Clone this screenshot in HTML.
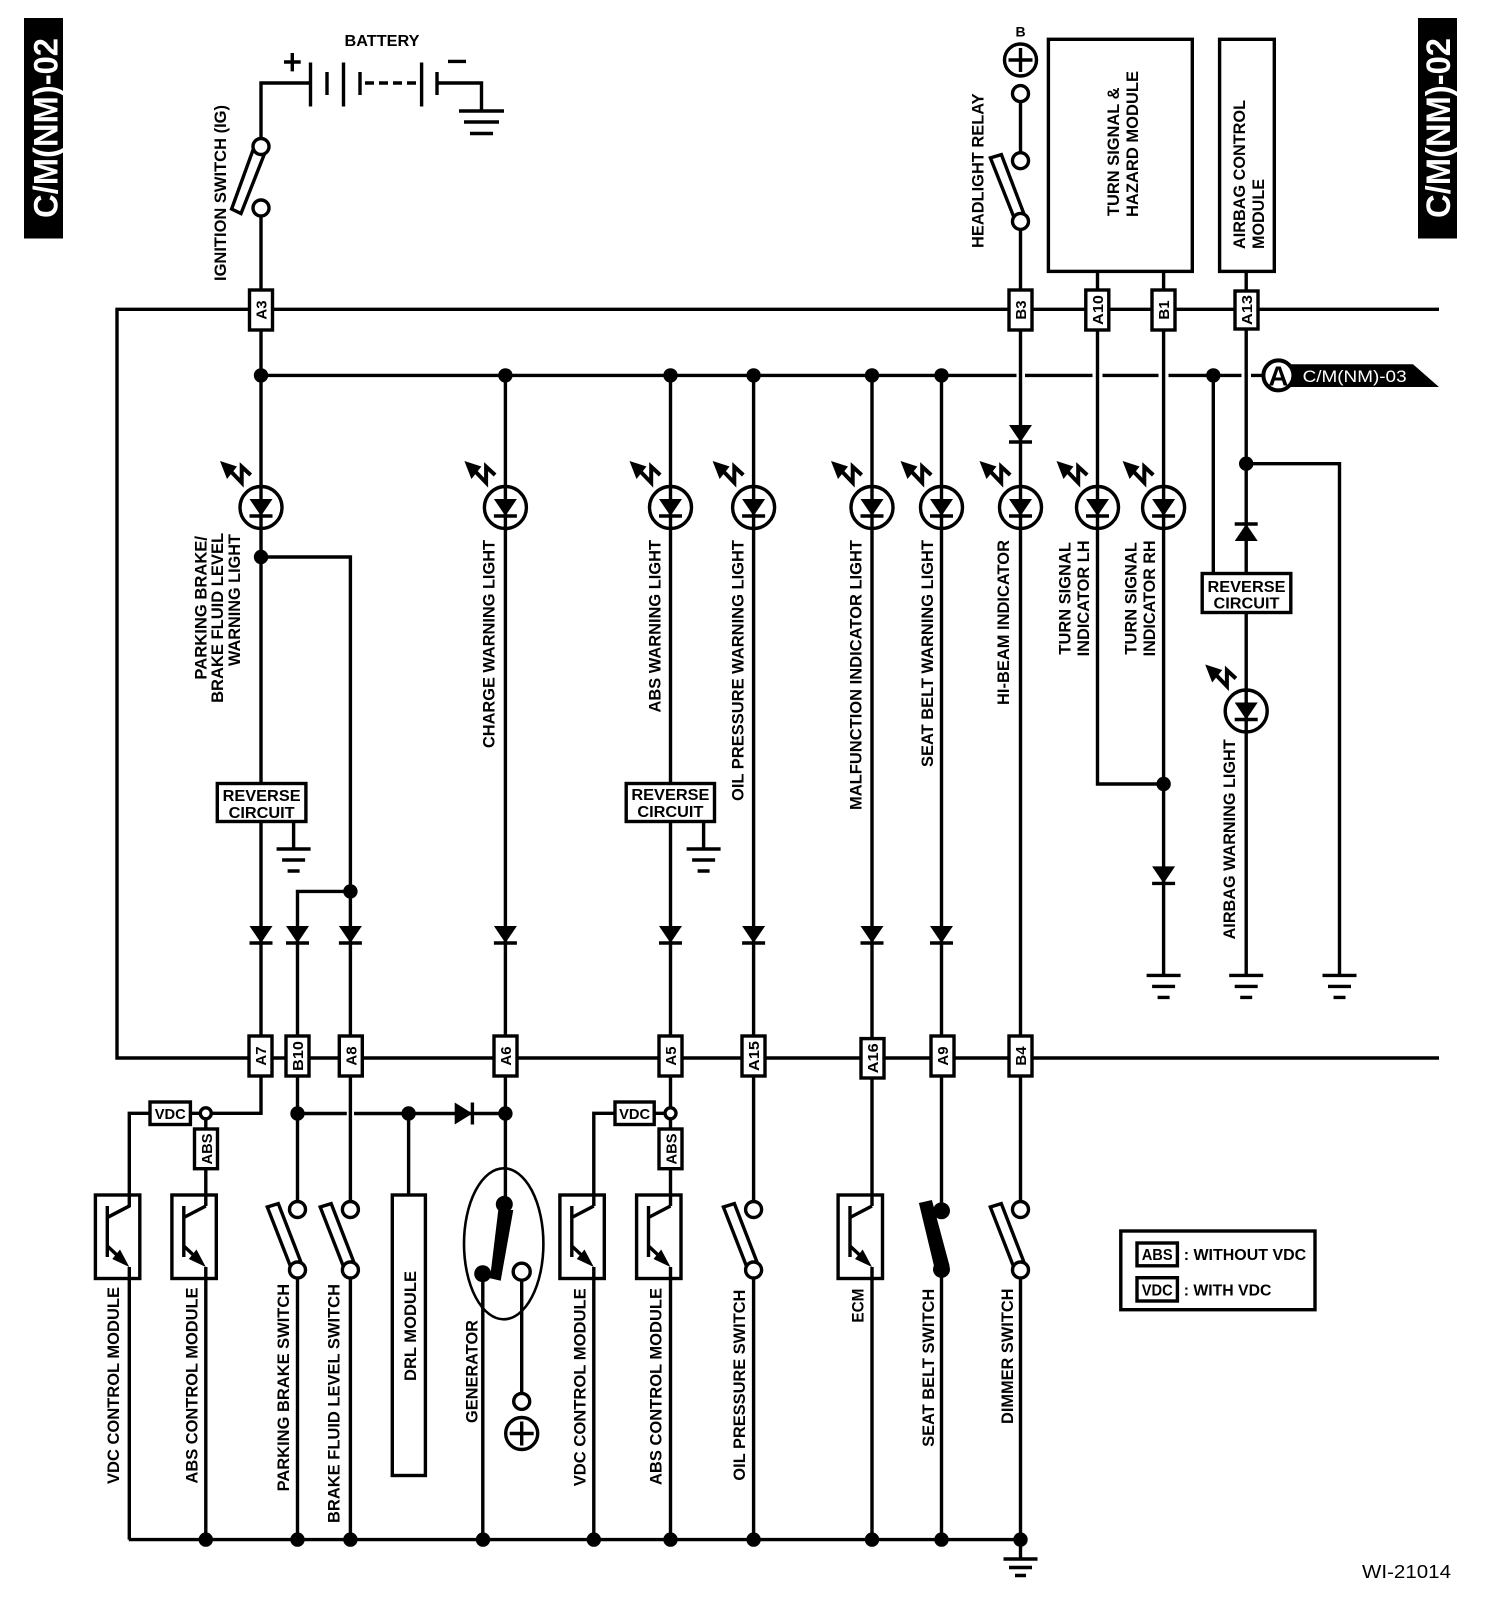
<!DOCTYPE html>
<html><head><meta charset="utf-8"><style>
html,body{margin:0;padding:0;background:#fff}
svg{display:block}
text{font-family:"Liberation Sans",sans-serif;font-weight:bold;font-size:17px;fill:#000}
.c{font-size:15px;text-anchor:middle}
.w{fill:#fff}
</style></head><body>
<svg xmlns="http://www.w3.org/2000/svg" width="1504" height="1614" viewBox="0 0 1504 1614">
<defs>
<g id="led" fill="none" stroke="#000" stroke-width="3.4">
<circle r="21"/>
<polygon points="-11.5,-8.5 11.5,-8.5 0,8.5" fill="#000" stroke="none"/>
<path d="M-11.5 8.5H11.5"/>
<polygon points="-41,-46.5 -24,-41 -34,-28.5" fill="#000" stroke="none"/>
<path d="M-31,-37 L-19.3,-24.8 V-40.8 L-10.3,-32.5" stroke-width="4"/>
</g>
<g id="d"><polygon points="-11.5,0 11.5,0 0,17" fill="#000"/><path d="M-11.5 17H11.5" stroke="#000" stroke-width="3.4"/></g>
<g id="gnd" stroke="#000" stroke-width="3.4"><path d="M-17 0H17M-11.5 11H11.5M-6 22H6"/></g>
<g id="sw"><polygon points="-30.2,1207 -19.2,1203.6 3.4,1262 -7.2,1266" fill="#fff" stroke="#000" stroke-width="3.4"/><circle cy="1209.5" r="8" fill="#fff" stroke="#000" stroke-width="3.4"/><circle cy="1270" r="8" fill="#fff" stroke="#000" stroke-width="3.4"/></g>
<g id="tr"><rect x="-33.9" y="1195" width="44.4" height="83.5" fill="none" stroke="#000" stroke-width="3.4"/><path d="M-22 1206V1257M-22 1217.5L0 1206M-22 1246L-6 1261" fill="none" stroke="#000" stroke-width="3.4"/><polygon points="0,1267 -17,1259 -9.3,1249.5" fill="#000"/></g>
</defs>

<!-- page tags -->
<rect x="24" y="18" width="39" height="220.5" fill="#000"/>
<rect x="1418" y="18" width="39" height="220.5" fill="#000"/>
<text class="w" style="font-size:34px" transform="translate(57.5,218)rotate(-90)" textLength="180" lengthAdjust="spacingAndGlyphs">C/M(NM)-02</text>
<text class="w" style="font-size:34px" transform="translate(1450,218)rotate(-90)" textLength="180" lengthAdjust="spacingAndGlyphs">C/M(NM)-02</text>

<g fill="none" stroke="#000" stroke-width="3.4">
<!-- buses -->
<path d="M1439 309.3H117V1058H1439"/>
<path d="M261 375.4H1016.5M1025 375.4H1092.5M1102.5 375.4H1158.5M1168.5 375.4H1241.5M1251 375.4H1265"/>
<path d="M128.8 1539.6H1020.5V1559"/>
<!-- battery -->
<path d="M261 137V83H310.5M310.5 62.5V106.5M327 72V95M343.5 62.5V106.5M360 72V95M421.6 62.5V106.5M437 72V95M437 83H481.5V111"/>
<path d="M365 83H421" stroke-dasharray="9 5"/>
<path d="M284 62H300.7M292.3 53V71.4M448 61.4H466"/>
<!-- main verticals -->
<path d="M261 217V1036M261 1076V1113.3H129.3V1206L107.3 1217.5M129.3 1267V1539.6"/>
<path d="M505.4 375V1204"/>
<path d="M670.5 375V1113.3H593.8V1206M593.8 1267V1539.6M670.5 1113.3V1206M670.5 1267V1539.6"/>
<path d="M753.6 375V1202M753.6 1278V1539.6"/>
<path d="M872 375V1206M872 1267V1539.6"/>
<path d="M941.5 375V1204M941.5 1276V1539.6"/>
<path d="M1020.5 102V153M1020.5 229V1202M1020.5 1278V1539.6"/>
<path d="M1097.5 271V784H1163.6"/>
<path d="M1163.6 271V975.4"/>
<path d="M1213.3 375.4V573"/>
<path d="M1246.2 271V975.4"/>
<path d="M1246.2 463.7H1339.5V975.4"/>
<path d="M261 557H350.4V1036M350.4 1076V1202M350.4 1278V1539.6"/>
<path d="M350.4 891.4H297.5V1036M297.5 1076V1202M297.5 1278V1539.6"/>
<path d="M205.8 1113.3V1206M205.8 1267V1539.6"/>
<path d="M297.5 1113.5H346.8M354 1113.5H505.4"/>
<path d="M408.6 1113.5V1195"/>
<path d="M482.8 1274V1539.6M521.7 1281V1393"/>
<path d="M293.6 822V849M703.6 822V849"/>
<!-- top boxes -->
<rect x="1048.4" y="39.3" width="143.9" height="232.1"/>
<rect x="1219.6" y="39.3" width="54.7" height="232.1"/>
<!-- DRL -->
<rect x="392.3" y="1195" width="33.1" height="280.5"/>
<!-- generator -->
<ellipse cx="503.7" cy="1243.8" rx="39.7" ry="75.5" stroke-width="2.6"/>
</g>

<!-- LEDs -->
<use href="#led" x="261" y="507.5"/><use href="#led" x="505.4" y="507.5"/><use href="#led" x="670.5" y="507.5"/><use href="#led" x="753.6" y="507.5"/><use href="#led" x="872" y="507.5"/><use href="#led" x="941.5" y="507.5"/><use href="#led" x="1020.5" y="507.5"/><use href="#led" x="1097.5" y="507.5"/><use href="#led" x="1163.6" y="507.5"/><use href="#led" x="1246.2" y="711"/>

<!-- diodes -->
<use href="#d" x="1020.5" y="425"/>
<use href="#d" x="261" y="926"/><use href="#d" x="297.5" y="926"/><use href="#d" x="350.4" y="926"/><use href="#d" x="505.4" y="926"/><use href="#d" x="670.5" y="926"/><use href="#d" x="753.6" y="926"/><use href="#d" x="872" y="926"/><use href="#d" x="941.5" y="926"/>
<use href="#d" x="1163.6" y="866.4"/>
<polygon points="1234.7,541 1257.7,541 1246.2,524" fill="#000"/><path d="M1234.7 524H1257.7" stroke="#000" stroke-width="3.4"/>
<polygon points="454.7,1102.5 454.7,1124.5 472.4,1113.5" fill="#000"/><path d="M472.4 1102.5V1124.5" stroke="#000" stroke-width="3.4"/>

<!-- grounds -->
<path d="M459 111H504M464 122H499M470 133.5H493" stroke="#000" stroke-width="3.4"/>
<use href="#gnd" x="293.6" y="849"/><use href="#gnd" x="703.6" y="849"/>
<use href="#gnd" x="1163.6" y="975.4"/><use href="#gnd" x="1246.2" y="975.4"/><use href="#gnd" x="1339.5" y="975.4"/>
<g stroke="#000" stroke-width="3.4"><path d="M1003.5 1559H1037.5M1009 1567.5H1032M1015 1575.5H1026"/></g>

<!-- dots -->
<g fill="#000">
<circle cx="261" cy="375.4" r="7.2"/><circle cx="505.4" cy="375.4" r="7.2"/><circle cx="670.5" cy="375.4" r="7.2"/><circle cx="753.6" cy="375.4" r="7.2"/><circle cx="872" cy="375.4" r="7.2"/><circle cx="941.5" cy="375.4" r="7.2"/><circle cx="1213.3" cy="375.4" r="7.2"/>
<circle cx="1246.2" cy="463.7" r="7.2"/><circle cx="261" cy="557" r="7.2"/><circle cx="350.4" cy="891.4" r="7.2"/><circle cx="1163.6" cy="784" r="7.2"/>
<circle cx="297.5" cy="1113.5" r="7.2"/><circle cx="408.6" cy="1113.5" r="7.2"/><circle cx="505.4" cy="1113.5" r="7.2"/>
<circle cx="205.8" cy="1539.6" r="7.2"/><circle cx="297.5" cy="1539.6" r="7.2"/><circle cx="350.4" cy="1539.6" r="7.2"/><circle cx="483" cy="1539.6" r="7.2"/><circle cx="593.8" cy="1539.6" r="7.2"/><circle cx="670.5" cy="1539.6" r="7.2"/><circle cx="753.6" cy="1539.6" r="7.2"/><circle cx="872" cy="1539.6" r="7.2"/><circle cx="941.5" cy="1539.6" r="7.2"/><circle cx="1020.5" cy="1539.6" r="7.2"/>
</g>

<!-- transistors -->
<use href="#tr" x="129.3"/><use href="#tr" x="205.8"/><use href="#tr" x="593.8"/><use href="#tr" x="670.5"/><use href="#tr" x="872"/>

<!-- switches -->
<use href="#sw" x="297.5"/><use href="#sw" x="350.4"/><use href="#sw" x="753.6"/><use href="#sw" x="1020.5"/>
<g fill="#fff" stroke="#000" stroke-width="3.4">
<polygon points="231.6,209 241,213.5 264,155 253,150"/>
<circle cx="261" cy="146.5" r="8"/><circle cx="261" cy="208" r="8"/>
<polygon points="990.4,157.9 1001.4,154.6 1024,214 1013.4,216"/>
<circle cx="1020.5" cy="93.6" r="8"/><circle cx="1020.5" cy="160.7" r="8"/><circle cx="1020.5" cy="221.4" r="8"/>
<circle cx="1020.5" cy="60" r="16"/>
<circle cx="521.7" cy="1271.7" r="8.5"/><circle cx="521.7" cy="1401.4" r="8"/><circle cx="521.7" cy="1433.5" r="16"/>
<circle cx="205.8" cy="1113.3" r="5.5"/><circle cx="670.5" cy="1113.3" r="5.5"/>
</g>
<path d="M1008.5 60H1032.5M1020.5 48V72M509.7 1433.5H533.7M521.7 1421.5V1445.5" stroke="#000" stroke-width="3.4"/>
<!-- seat belt switch -->
<g fill="#000"><circle cx="941.5" cy="1210.8" r="8.5"/><circle cx="941.5" cy="1269.4" r="8.5"/><polygon points="918.9,1203 931.9,1200 949.6,1266 934,1266"/>
<!-- generator contacts -->
<circle cx="504.3" cy="1204.3" r="8.5"/><circle cx="482.7" cy="1273.7" r="8.5"/><polygon points="498.3,1210 513.3,1210 500.7,1280.7 490,1278.3"/></g>

<!-- connector boxes -->
<g fill="#fff" stroke="#000" stroke-width="3.4">
<rect x="249.5" y="290" width="23" height="40"/><rect x="1009" y="290" width="23" height="40"/><rect x="1085.8" y="290" width="23" height="40"/><rect x="1152" y="290" width="23" height="40"/><rect x="1235" y="291" width="23" height="38"/>
<rect x="249" y="1036" width="23" height="40"/><rect x="286" y="1036" width="23" height="40"/><rect x="339.3" y="1036" width="23" height="40"/><rect x="494" y="1036" width="23" height="40"/><rect x="659" y="1036" width="23" height="40"/><rect x="742" y="1036" width="23" height="40"/><rect x="861" y="1038.6" width="23" height="39.4"/><rect x="931" y="1036" width="23" height="40"/><rect x="1009" y="1036" width="23" height="40"/>
<rect x="217.3" y="783.5" width="88.6" height="38"/><rect x="626.2" y="783.5" width="88.3" height="38"/><rect x="1202.2" y="573.5" width="88.6" height="39"/>
<rect x="150" y="1102" width="40.4" height="22.5"/><rect x="615" y="1102" width="39.2" height="22.5"/>
<rect x="194.5" y="1129" width="23" height="39.7"/><rect x="659" y="1129" width="23" height="39.7"/>
</g>
<g>
<text class="c" transform="translate(266.5,310)rotate(-90)">A3</text>
<text class="c" transform="translate(1026,310)rotate(-90)">B3</text>
<text class="c" transform="translate(1102.8,310)rotate(-90)" textLength="30" lengthAdjust="spacingAndGlyphs">A10</text>
<text class="c" transform="translate(1169,310)rotate(-90)">B1</text>
<text class="c" transform="translate(1252,310)rotate(-90)" textLength="30" lengthAdjust="spacingAndGlyphs">A13</text>
<text class="c" transform="translate(266,1056)rotate(-90)">A7</text>
<text class="c" transform="translate(303,1056)rotate(-90)" textLength="30" lengthAdjust="spacingAndGlyphs">B10</text>
<text class="c" transform="translate(356.3,1056)rotate(-90)">A8</text>
<text class="c" transform="translate(511,1056)rotate(-90)">A6</text>
<text class="c" transform="translate(676,1056)rotate(-90)">A5</text>
<text class="c" transform="translate(759,1056)rotate(-90)" textLength="30" lengthAdjust="spacingAndGlyphs">A15</text>
<text class="c" transform="translate(878,1058.3)rotate(-90)" textLength="30" lengthAdjust="spacingAndGlyphs">A16</text>
<text class="c" transform="translate(948,1056)rotate(-90)">A9</text>
<text class="c" transform="translate(1026,1056)rotate(-90)">B4</text>
<text class="c" transform="translate(212,1149)rotate(-90)" textLength="31" lengthAdjust="spacingAndGlyphs">ABS</text>
<text class="c" transform="translate(676.5,1149)rotate(-90)" textLength="31" lengthAdjust="spacingAndGlyphs">ABS</text>
<text class="c" x="170.2" y="1119" textLength="31" lengthAdjust="spacingAndGlyphs">VDC</text>
<text class="c" x="634.6" y="1119" textLength="31" lengthAdjust="spacingAndGlyphs">VDC</text>
</g>

<!-- reverse circuit text -->
<g text-anchor="middle">
<text x="261.6" y="801" textLength="78" lengthAdjust="spacingAndGlyphs" style="font-size:16px">REVERSE</text>
<text x="261.6" y="818" textLength="66" lengthAdjust="spacingAndGlyphs" style="font-size:16px">CIRCUIT</text>
<text x="670.4" y="800" textLength="78" lengthAdjust="spacingAndGlyphs" style="font-size:16px">REVERSE</text>
<text x="670.4" y="817" textLength="66" lengthAdjust="spacingAndGlyphs" style="font-size:16px">CIRCUIT</text>
<text x="1246.5" y="592" textLength="78" lengthAdjust="spacingAndGlyphs" style="font-size:16px">REVERSE</text>
<text x="1246.5" y="608.5" textLength="66" lengthAdjust="spacingAndGlyphs" style="font-size:16px">CIRCUIT</text>
<text x="382" y="46" textLength="75" lengthAdjust="spacingAndGlyphs" style="font-size:16px">BATTERY</text>
<text x="1020.6" y="36.5" style="font-size:14px">B</text>
</g>

<!-- A reference -->
<polygon points="1280,364.3 1413,364.3 1439,387 1280,387" fill="#000"/>
<circle cx="1278.4" cy="375.4" r="15" fill="#fff" stroke="#000" stroke-width="4"/>
<text x="1278.4" y="385.5" text-anchor="middle" style="font-size:28px" textLength="20" lengthAdjust="spacingAndGlyphs">A</text>
<text class="w" x="1302.6" y="382" style="font-size:17px;font-weight:normal" textLength="104" lengthAdjust="spacingAndGlyphs">C/M(NM)-03</text>

<!-- vertical labels -->
<g>
<text transform="translate(226,281)rotate(-90)" textLength="176" lengthAdjust="spacingAndGlyphs">IGNITION SWITCH (IG)</text>
<text transform="translate(983.6,248)rotate(-90)" textLength="154.6" lengthAdjust="spacingAndGlyphs">HEADLIGHT RELAY</text>
<text transform="translate(1119,216)rotate(-90)" textLength="128.5" lengthAdjust="spacingAndGlyphs">TURN SIGNAL &amp;</text>
<text transform="translate(1138,217)rotate(-90)" textLength="146" lengthAdjust="spacingAndGlyphs">HAZARD MODULE</text>
<text transform="translate(1245,249)rotate(-90)" textLength="149" lengthAdjust="spacingAndGlyphs">AIRBAG CONTROL</text>
<text transform="translate(1264,249)rotate(-90)" textLength="70" lengthAdjust="spacingAndGlyphs">MODULE</text>
<text transform="translate(206.5,679.6)rotate(-90)" textLength="143.6" lengthAdjust="spacingAndGlyphs">PARKING BRAKE/</text>
<text transform="translate(223.2,702.9)rotate(-90)" textLength="170" lengthAdjust="spacingAndGlyphs">BRAKE FLUID LEVEL</text>
<text transform="translate(240,666)rotate(-90)" textLength="132" lengthAdjust="spacingAndGlyphs">WARNING LIGHT</text>
<text transform="translate(494.6,748)rotate(-90)" textLength="208" lengthAdjust="spacingAndGlyphs">CHARGE WARNING LIGHT</text>
<text transform="translate(660.4,712.5)rotate(-90)" textLength="172.5" lengthAdjust="spacingAndGlyphs">ABS WARNING LIGHT</text>
<text transform="translate(743.6,801)rotate(-90)" textLength="261" lengthAdjust="spacingAndGlyphs">OIL PRESSURE WARNING LIGHT</text>
<text transform="translate(861.4,810)rotate(-90)" textLength="270" lengthAdjust="spacingAndGlyphs">MALFUNCTION INDICATOR LIGHT</text>
<text transform="translate(933,767)rotate(-90)" textLength="227" lengthAdjust="spacingAndGlyphs">SEAT BELT WARNING LIGHT</text>
<text transform="translate(1009,705)rotate(-90)" textLength="165" lengthAdjust="spacingAndGlyphs">HI-BEAM INDICATOR</text>
<text transform="translate(1070.5,654.6)rotate(-90)" textLength="112.5" lengthAdjust="spacingAndGlyphs">TURN SIGNAL</text>
<text transform="translate(1089,656.4)rotate(-90)" textLength="116" lengthAdjust="spacingAndGlyphs">INDICATOR LH</text>
<text transform="translate(1136.4,654.6)rotate(-90)" textLength="112.5" lengthAdjust="spacingAndGlyphs">TURN SIGNAL</text>
<text transform="translate(1155,656.4)rotate(-90)" textLength="116" lengthAdjust="spacingAndGlyphs">INDICATOR RH</text>
<text transform="translate(1235,939.4)rotate(-90)" textLength="200" lengthAdjust="spacingAndGlyphs">AIRBAG WARNING LIGHT</text>
<text transform="translate(119,1484)rotate(-90)" textLength="197" lengthAdjust="spacingAndGlyphs">VDC CONTROL MODULE</text>
<text transform="translate(197.6,1483.5)rotate(-90)" textLength="196" lengthAdjust="spacingAndGlyphs">ABS CONTROL MODULE</text>
<text transform="translate(289.2,1491.4)rotate(-90)" textLength="207.6" lengthAdjust="spacingAndGlyphs">PARKING BRAKE SWITCH</text>
<text transform="translate(339.6,1523)rotate(-90)" textLength="239" lengthAdjust="spacingAndGlyphs">BRAKE FLUID LEVEL SWITCH</text>
<text transform="translate(415.8,1381)rotate(-90)" textLength="110" lengthAdjust="spacingAndGlyphs">DRL MODULE</text>
<text transform="translate(477.7,1423)rotate(-90)" textLength="103" lengthAdjust="spacingAndGlyphs">GENERATOR</text>
<text transform="translate(585.6,1486.3)rotate(-90)" textLength="198" lengthAdjust="spacingAndGlyphs">VDC CONTROL MODULE</text>
<text transform="translate(661.4,1485)rotate(-90)" textLength="197" lengthAdjust="spacingAndGlyphs">ABS CONTROL MODULE</text>
<text transform="translate(744.8,1480.6)rotate(-90)" textLength="191" lengthAdjust="spacingAndGlyphs">OIL PRESSURE SWITCH</text>
<text transform="translate(863.3,1322.6)rotate(-90)" textLength="34" lengthAdjust="spacingAndGlyphs">ECM</text>
<text transform="translate(934,1446.8)rotate(-90)" textLength="158" lengthAdjust="spacingAndGlyphs">SEAT BELT SWITCH</text>
<text transform="translate(1013,1424)rotate(-90)" textLength="135.5" lengthAdjust="spacingAndGlyphs">DIMMER SWITCH</text>
</g>

<!-- legend -->
<g fill="none" stroke="#000" stroke-width="3.4">
<rect x="1120.8" y="1231" width="194.2" height="78.7"/>
<rect x="1137" y="1243" width="40.4" height="22.8"/>
<rect x="1137" y="1277.7" width="40.4" height="23.3"/>
</g>
<text x="1157.2" y="1260" text-anchor="middle" style="font-size:16px" textLength="31" lengthAdjust="spacingAndGlyphs">ABS</text>
<text x="1157.2" y="1295.5" text-anchor="middle" style="font-size:16px" textLength="31" lengthAdjust="spacingAndGlyphs">VDC</text>
<text x="1183.7" y="1260" style="font-size:16px" textLength="122.5" lengthAdjust="spacingAndGlyphs">: WITHOUT VDC</text>
<text x="1183.7" y="1295.5" style="font-size:16px" textLength="87.7" lengthAdjust="spacingAndGlyphs">: WITH VDC</text>

<text x="1362" y="1578" style="font-size:18px;font-weight:normal" textLength="89" lengthAdjust="spacingAndGlyphs">WI-21014</text>
</svg>
</body></html>
